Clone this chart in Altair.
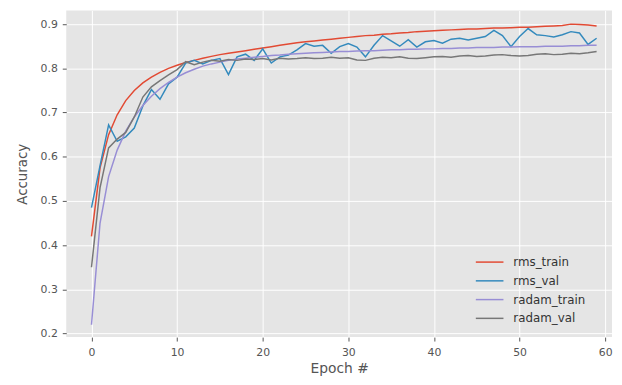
import altair as alt
import pandas as pd

epochs = list(range(60))

rms_train = [0.420, 0.575, 0.650, 0.695, 0.727, 0.750, 0.767, 0.780, 0.791, 0.800,
             0.807, 0.813, 0.818, 0.823, 0.827, 0.831, 0.834, 0.837, 0.840, 0.843,
             0.846, 0.849, 0.852, 0.855, 0.858, 0.860, 0.862, 0.864, 0.866, 0.868,
             0.870, 0.872, 0.874, 0.875, 0.877, 0.878, 0.880, 0.881, 0.883, 0.884,
             0.885, 0.886, 0.887, 0.888, 0.889, 0.889, 0.890, 0.891, 0.891, 0.892,
             0.893, 0.893, 0.894, 0.895, 0.896, 0.897, 0.900, 0.899, 0.898, 0.896]

rms_val = [0.485, 0.580, 0.672, 0.635, 0.645, 0.665, 0.715, 0.752, 0.730, 0.765,
           0.780, 0.812, 0.818, 0.810, 0.818, 0.822, 0.786, 0.826, 0.832, 0.818,
           0.844, 0.812, 0.826, 0.830, 0.842, 0.856, 0.850, 0.852, 0.834, 0.849,
           0.856, 0.848, 0.826, 0.852, 0.874, 0.862, 0.850, 0.865, 0.848, 0.860,
           0.863, 0.857, 0.866, 0.868, 0.864, 0.868, 0.872, 0.886, 0.874, 0.849,
           0.872, 0.890, 0.876, 0.874, 0.871, 0.876, 0.883, 0.880, 0.854, 0.868]

radam_train = [0.220, 0.450, 0.555, 0.615, 0.658, 0.690, 0.716, 0.737, 0.754, 0.768,
               0.780, 0.790, 0.798, 0.805, 0.810, 0.814, 0.818, 0.821, 0.823, 0.825,
               0.827, 0.829, 0.830, 0.832, 0.833, 0.834, 0.835, 0.836, 0.837, 0.838,
               0.838, 0.839, 0.840, 0.840, 0.841, 0.842, 0.842, 0.843, 0.843, 0.844,
               0.844, 0.845, 0.845, 0.846, 0.846, 0.847, 0.847, 0.847, 0.848, 0.848,
               0.849, 0.849, 0.849, 0.850, 0.850, 0.850, 0.851, 0.851, 0.852, 0.852]

radam_val = [0.350, 0.530, 0.620, 0.640, 0.655, 0.690, 0.735, 0.758, 0.772, 0.785,
             0.797, 0.815, 0.808, 0.814, 0.818, 0.816, 0.820, 0.818, 0.821, 0.820,
             0.822, 0.819, 0.823, 0.821, 0.822, 0.824, 0.822, 0.823, 0.825, 0.823,
             0.824, 0.819, 0.818, 0.823, 0.825, 0.824, 0.826, 0.823, 0.822, 0.824,
             0.826, 0.827, 0.825, 0.828, 0.829, 0.827, 0.828, 0.830, 0.831, 0.829,
             0.828, 0.829, 0.832, 0.833, 0.831, 0.832, 0.834, 0.833, 0.835, 0.838]

series_names = ["rms_train", "rms_val", "radam_train", "radam_val"]
series_colors = ["#E24A33", "#348ABD", "#988ED5", "#777777"]
x_ticks = [0, 10, 20, 30, 40, 50, 60]
y_ticks = [0.2, 0.3, 0.4, 0.5, 0.6, 0.7, 0.8, 0.9]

rows = []
for name, vals in zip(series_names, [rms_train, rms_val, radam_train, radam_val]):
    for e, v in zip(epochs, vals):
        rows.append({"epoch": e, "acc": v, "series": name})
df = pd.DataFrame(rows)

font = "DejaVu Sans"

chart = alt.Chart(df).mark_line(strokeWidth=1.5, clip=True).encode(
    x=alt.X("epoch:Q",
            scale=alt.Scale(domain=[-2.95, 60.8], nice=False, zero=False),
            axis=alt.Axis(values=x_ticks, title="Epoch #", format="d",
                          grid=True, domain=False, tickColor="#555555", tickSize=4,
                          labelColor="#555555", labelFontSize=11, labelPadding=6,
                          titleColor="#555555", titleFontSize=14, titleFontWeight="normal",
                          titlePadding=4, labelFont=font, titleFont=font)),
    y=alt.Y("acc:Q",
            scale=alt.Scale(domain=[0.192, 0.931], nice=False, zero=False),
            axis=alt.Axis(values=y_ticks, title="Accuracy", format=".1f",
                          grid=True, domain=False, tickColor="#555555", tickSize=4,
                          labelColor="#555555", labelFontSize=11, labelPadding=5,
                          titleColor="#555555", titleFontSize=13.5, titleFontWeight="normal",
                          titlePadding=11, labelFont=font, titleFont=font)),
    color=alt.Color("series:N",
                    scale=alt.Scale(domain=series_names, range=series_colors),
                    legend=alt.Legend(title=None, orient="none", legendX=421, legendY=247,
                                      symbolType="M-2,0H2", symbolSize=196,
                                      symbolStrokeWidth=1.5, labelFontSize=12,
                                      labelColor="#333333", labelFont=font,
                                      labelOffset=16, rowPadding=5, padding=0)),
).properties(
    width=553, height=331,
    autosize=alt.AutoSizeParams(type="none"),
    padding={"left": 59, "top": 0, "right": 2, "bottom": 40},
).configure_view(
    fill="#E5E5E5", stroke=None
).configure_axis(
    gridColor="#FFFFFF", gridWidth=1, gridOpacity=1
)

chart.save("out.html", embed_options={"renderer": "svg", "actions": False})
